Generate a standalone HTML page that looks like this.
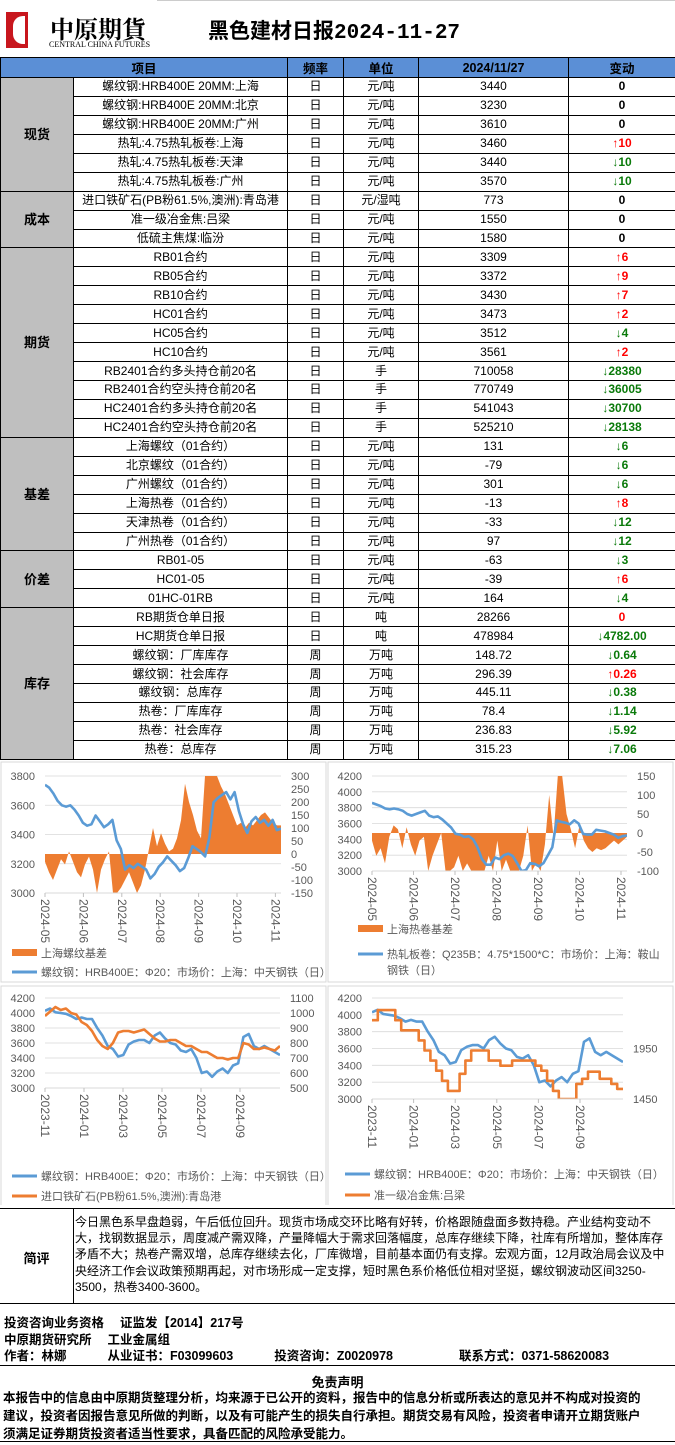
<!DOCTYPE html>
<html><head><meta charset="utf-8">
<style>
*{margin:0;padding:0;box-sizing:border-box}
body{width:675px;height:1445px;background:#fff;position:relative;overflow:hidden;font-family:"Liberation Sans","Noto Sans CJK SC",sans-serif;color:#000}
.abs{position:absolute}
table{border-collapse:collapse;position:absolute;left:0;top:57px;width:675px;table-layout:fixed}
td{border:1px solid #000;height:18.95px;font-size:12px;text-align:center;padding:0;white-space:nowrap;overflow:hidden;line-height:17px}
th{background:#5b8fd6;border:1px solid #000;height:19px;font-size:12.5px;font-weight:bold}
td.cat{background:#bfbfbf;font-weight:bold;font-size:13px}
.up{color:#f00;font-weight:bold}.dn{color:#0a7a0a;font-weight:bold}.z{font-weight:bold}
.ft{font-weight:bold;font-size:12.5px;position:absolute;left:4px;white-space:nowrap}
</style></head><body>
<div class="abs" style="left:6px;top:12px;width:22px;height:36px;background:#c8161d"></div>
<div class="abs" style="left:13px;top:16px;width:12px;height:28px;border-radius:10px 0 0 10px;background:#fff"></div>
<div class="abs" style="left:50px;top:10px;font-size:24px;font-weight:bold;font-family:'Noto Serif CJK SC',serif;letter-spacing:0px">中原期貨</div>
<div class="abs" style="left:49px;top:40px;font-size:8px;font-family:'Liberation Serif',serif">CENTRAL CHINA FUTURES</div>
<div class="abs" style="left:208px;top:15px;font-size:21px;font-weight:bold;font-family:'Liberation Mono','Noto Sans CJK SC',monospace">黑色建材日报2024-11-27</div>
<div class="abs" style="left:157px;top:0;width:518px;height:1px;background:#ccc"></div>

<table id="tbl">
<colgroup><col style="width:73px"><col style="width:214px"><col style="width:56px"><col style="width:75px"><col style="width:150px"><col style="width:107px"></colgroup>
<thead><tr><th colspan="2">项目</th><th>频率</th><th>单位</th><th>2024/11/27</th><th>变动</th></tr></thead>
<tbody id="tb"></tbody></table>

<svg id="charts" class="abs" style="left:0;top:760px" width="675" height="445"></svg>

<div class="abs" style="left:0;top:1208px;width:675px;height:96px;border-top:1px solid #000;border-bottom:1px solid #000"></div>
<div class="abs" style="left:73px;top:1208px;width:1px;height:96px;background:#000"></div>
<div class="abs" style="left:0;top:1248px;width:73px;text-align:center;font-weight:bold;font-size:13px">简评</div>
<div class="abs" style="left:75px;top:1214px;width:600px;font-size:12px;line-height:16.2px;white-space:nowrap">今日黑色系早盘趋弱，午后低位回升。现货市场成交环比略有好转，价格跟随盘面多数持稳。产业结构变动不<br>大，找钢数据显示，周度减产需双降，产量降幅大于需求回落幅度，总库存继续下降，社库有所增加，整体库存<br>矛盾不大；热卷产需双增，总库存继续去化，厂库微增，目前基本面仍有支撑。宏观方面，12月政治局会议及中<br>央经济工作会议政策预期再起，对市场形成一定支撑，短时黑色系价格低位相对坚挺，螺纹钢波动区间3250-<br>3500，热卷3400-3600。</div>
<div class="ft" style="top:1312px">投资咨询业务资格　 证监发【2014】217号</div>
<div class="ft" style="top:1329px">中原期货研究所　 工业金属组</div>
<div class="ft" style="top:1345px">作者：林娜　　　 从业证书：F03099603　　　 投资咨询：Z0020978　　　　　 联系方式：0371-58620083</div>
<div class="abs" style="left:0;top:1365px;width:675px;height:1px;background:#000"></div>
<div class="abs" style="left:0;top:1372px;width:675px;text-align:center;font-weight:bold;font-size:13px">免责声明</div>
<div class="abs" style="left:3px;top:1389px;font-weight:bold;font-size:12.5px;line-height:18px;white-space:nowrap">本报告中的信息由中原期货整理分析，均来源于已公开的资料，报告中的信息分析或所表达的意见并不构成对投资的<br>建议，投资者因报告意见所做的判断，以及有可能产生的损失自行承担。期货交易有风险，投资者申请开立期货账户<br>须满足证券期货投资者适当性要求，具备匹配的风险承受能力。</div>
<div class="abs" style="left:0;top:1441px;width:675px;height:1px;background:#000"></div>

<script>
const cats=[["现货",6],["成本",3],["期货",10],["基差",6],["价差",3],["库存",8]];
const items=["螺纹钢:HRB400E 20MM:上海","螺纹钢:HRB400E 20MM:北京","螺纹钢:HRB400E 20MM:广州","热轧:4.75热轧板卷:上海","热轧:4.75热轧板卷:天津","热轧:4.75热轧板卷:广州","进口铁矿石(PB粉61.5%,澳洲):青岛港","准一级冶金焦:吕梁","低硫主焦煤:临汾","RB01合约","RB05合约","RB10合约","HC01合约","HC05合约","HC10合约","RB2401合约多头持仓前20名","RB2401合约空头持仓前20名","HC2401合约多头持仓前20名","HC2401合约空头持仓前20名","上海螺纹（01合约）","北京螺纹（01合约）","广州螺纹（01合约）","上海热卷（01合约）","天津热卷（01合约）","广州热卷（01合约）","RB01-05","HC01-05","01HC-01RB","RB期货仓单日报","HC期货仓单日报","螺纹钢：厂库库存","螺纹钢：社会库存","螺纹钢：总库存","热卷：厂库库存","热卷：社会库存","热卷：总库存"];
const freqs="日日日日日日日日日日日日日日日日日日日日日日日日日日日日日日周周周周周周".split("");
const units=["元/吨","元/吨","元/吨","元/吨","元/吨","元/吨","元/湿吨","元/吨","元/吨","元/吨","元/吨","元/吨","元/吨","元/吨","元/吨","手","手","手","手","元/吨","元/吨","元/吨","元/吨","元/吨","元/吨","元/吨","元/吨","元/吨","吨","吨","万吨","万吨","万吨","万吨","万吨","万吨"];
const vals=["3440","3230","3610","3460","3440","3570","773","1550","1580","3309","3372","3430","3473","3512","3561","710058","770749","541043","525210","131","-79","301","-13","-33","97","-63","-39","164","28266","478984","148.72","296.39","445.11","78.4","236.83","315.23"];
const chg=["0","0","0","+10","-10","-10","0","0","0","+6","+9","+7","+2","-4","+2","-28380","-36005","-30700","-28138","-6","-6","-6","+8","-12","-12","-3","+6","-4","r0","-4782.00","-0.64","+0.26","-0.38","-1.14","-5.92","-7.06"];
const tb=document.getElementById('tb');
let ci=0,left=0;
for(let i=0;i<items.length;i++){
  const tr=document.createElement('tr');
  if(left===0){
    const c=document.createElement('td');c.className='cat';c.rowSpan=cats[ci][1];c.textContent=cats[ci][0];
    
    
    tr.appendChild(c);left=cats[ci][1];ci++;
  }
  left--;
  const cells=[items[i],freqs[i],units[i],vals[i]];
  cells.forEach((t,k)=>{const d=document.createElement('td');d.textContent=t;
    
    
    tr.appendChild(d);});
  const d=document.createElement('td');const s=chg[i];
  if(s[0]==='+'){d.className='up';d.textContent='↑'+s.slice(1);}
  else if(s[0]==='-'){d.className='dn';d.textContent='↓'+s.slice(1);}
  else if(s[0]==='r'){d.className='up';d.textContent=s.slice(1);}
  else{d.className='z';d.textContent=s;}
  
  
  tr.appendChild(d);tb.appendChild(tr);
}
</script>

<script>
// chart data
const blue1=[3740,3720,3680,3630,3600,3590,3600,3570,3530,3480,3460,3470,3530,3490,3450,3470,3500,3360,3300,3160,3190,3170,3200,3180,3160,3100,3130,3180,3210,3250,3220,3190,3150,3170,3240,3320,3300,3280,3250,3380,3620,3650,3670,3690,3640,3690,3560,3470,3410,3490,3520,3480,3500,3460,3500,3430,3440];
const basis1=[-30,-70,-100,-60,-20,-40,10,-30,-70,-90,-40,-10,-60,-150,-60,-20,10,-150,-150,-130,-100,-70,-110,-150,-120,-60,20,100,30,80,40,10,20,60,130,270,200,150,90,60,300,300,300,300,260,230,190,150,110,120,100,120,110,130,150,160,140,120,110,110];
const blue2=[3860,3840,3820,3790,3780,3790,3780,3760,3720,3700,3720,3740,3760,3700,3680,3690,3650,3600,3550,3470,3460,3430,3440,3400,3300,3150,3080,3080,3170,3150,3200,3220,3190,3100,3000,3010,3100,3090,3060,3100,3200,3300,3640,3620,3610,3590,3640,3600,3470,3460,3460,3520,3510,3500,3480,3460,3420,3440,3450];
const basis2=[-20,-60,-40,-80,-10,20,10,-40,15,-30,-60,-20,-10,-100,-60,-30,0,-100,-100,-90,-60,-100,-80,-100,-100,-100,-100,-60,-100,-20,-100,-70,-100,-100,-100,-60,20,-100,-80,-100,-30,100,-10,150,150,50,10,-40,20,-20,-40,-50,-40,-45,-40,-30,-20,-30,-20,-10];
const rebarY=[4030,4060,4010,4000,3990,3960,3920,3940,3920,3920,3800,3700,3560,3520,3420,3440,3580,3620,3640,3640,3600,3700,3740,3660,3600,3580,3500,3480,3520,3400,3200,3220,3150,3220,3260,3200,3300,3330,3680,3720,3560,3520,3560,3520,3480,3440];
const ore=[980,1010,1040,1020,1030,1000,990,940,920,880,820,780,760,800,870,880,880,870,880,890,860,830,810,810,820,820,800,780,780,760,740,740,720,700,700,690,700,700,800,790,760,760,770,760,750,780];
const coke=[2230,2330,2330,2330,2230,2130,2130,2130,2030,1930,1830,1730,1630,1530,1530,1700,1830,1930,1930,1930,1830,1830,1780,1780,1830,1830,1830,1830,1780,1730,1630,1530,1450,1450,1450,1600,1650,1720,1720,1650,1650,1600,1550,1550];
const monthsA=["2024-05","2024-06","2024-07","2024-08","2024-09","2024-10","2024-11"];
const monthsB=["2023-11","2024-01","2024-03","2024-05","2024-07","2024-09"];
const ticks1L=[3000,3200,3400,3600,3800], ticks1R=[-150,-100,-50,0,50,100,150,200,250,300];
const ticks2L=[3000,3200,3400,3600,3800,4000,4200], ticks2R=[-100,-50,0,50,100,150];
const ticks3L=[3000,3200,3400,3600,3800,4000,4200], ticks3R=[500,600,700,800,900,1000,1100];
const ticks4L=[3000,3200,3400,3600,3800,4000,4200], ticks4R=[1450,1950];

const S=document.getElementById('charts');const NS='http://www.w3.org/2000/svg';
function el(t,a,p){const e=document.createElementNS(NS,t);for(const k in a)e.setAttribute(k,a[k]);(p||S).appendChild(e);return e;}
function txt(x,y,s,anchor,size,rot,fill){const e=el('text',{x:x,y:y,'font-size':size||11,'text-anchor':anchor||'start',fill:fill||'#595959','font-family':'Liberation Sans, Noto Sans CJK SC, sans-serif'});if(rot)e.setAttribute('transform','rotate(90 '+x+' '+y+')');e.textContent=s;return e;}
let cid=0;
function chart(o){
  const id='c'+(cid++);
  el('rect',{x:o.bx,y:o.by,width:o.bw,height:o.bh,fill:'#fff',stroke:'#d9d9d9'});
  const yL=v=>o.b-(v-o.lmin)/(o.lmax-o.lmin)*(o.b-o.t);
  const yR=v=>o.b-(v-o.rmin)/(o.rmax-o.rmin)*(o.b-o.t);
  o.ticksL.forEach(v=>{el('line',{x1:o.l,x2:o.r,y1:yL(v),y2:yL(v),stroke:'#d9d9d9','stroke-width':0.8});txt(o.l-10,yL(v)+4,v,'end',11);});
  o.ticksR.forEach(v=>txt(o.r+10,yR(v)+4,v,'start',11));
  const cp=el('clipPath',{id:id});el('rect',{x:o.l,y:o.t,width:o.r-o.l,height:o.b-o.t},cp);
  const xs=(arr,i)=>o.l+i/(arr.length-1)*(o.xend-o.l);
  if(o.area){const a=o.area;let d='M'+o.l+','+yR(0);a.forEach((v,i)=>d+='L'+xs(a,i).toFixed(1)+','+yR(v).toFixed(1));d+='L'+xs(a,a.length-1)+','+yR(0)+'Z';
    const p=el('path',{d:d,fill:'#ed7d31','clip-path':'url(#'+id+')'});
    
    }
  o.lines.forEach(L=>{let d='';L.data.forEach((v,i)=>{const x=xs(L.data,i).toFixed(1),y=(L.axis==='R'?yR(v):yL(v)).toFixed(1);
      if(L.step&&i>0){const py=(L.axis==='R'?yR(L.data[i-1]):yL(L.data[i-1])).toFixed(1);d+='L'+x+','+py;}
      d+=(i?'L':'M')+x+','+y;});
    const p=el('path',{d:d,fill:'none',stroke:L.color,'stroke-width':2.6,'stroke-linejoin':'round','clip-path':'url(#'+id+')'});
    
    });
  el('line',{x1:o.l,x2:o.r,y1:o.b,y2:o.b,stroke:'#d9d9d9'});
  o.months.forEach((m,i)=>{const x=o.l+i*o.mstep;el('line',{x1:x,x2:x,y1:o.b,y2:o.b+4,stroke:'#bfbfbf'});txt(x-4,o.b+6,m,'start',12,true);});
  o.legend.forEach(g=>{if(g.box)el('rect',{x:g.x,y:g.y-4,width:25,height:7,fill:g.color});else el('line',{x1:g.x,x2:g.x+25,y1:g.y,y2:g.y,stroke:g.color,'stroke-width':3});
    g.text.forEach((t,k)=>txt(g.x+29,g.y+4+k*16,t,'start',11));});
}
chart({bx:1,by:2,bw:325,bh:220,l:45,r:281,t:776-760,b:893-760,xend:281,lmin:3000,lmax:3800,rmin:-150,rmax:300,ticksL:ticks1L,ticksR:ticks1R,
 area:basis1,lines:[{data:blue1,color:'#5b9bd5',axis:'L',name:'rebar-price-line'}],months:monthsA,mstep:38.4,
 legend:[{x:12,y:193,color:'#ed7d31',box:true,text:['上海螺纹基差']},{x:12,y:212,color:'#5b9bd5',text:['螺纹钢：HRB400E：Φ20：市场价：上海：中天钢铁（日）']}]});
chart({bx:328,by:2,bw:345,bh:220,l:372,r:627,t:16,b:111,xend:627,lmin:3000,lmax:4200,rmin:-100,rmax:150,ticksL:ticks2L,ticksR:ticks2R,
 area:basis2,lines:[{data:blue2,color:'#5b9bd5',axis:'L',name:'hrc-price-line'}],months:monthsA,mstep:41.5,
 legend:[{x:358,y:169,color:'#ed7d31',box:true,text:['上海热卷基差']},{x:358,y:194,color:'#5b9bd5',text:['热轧板卷：Q235B：4.75*1500*C：市场价：上海：鞍山','钢铁（日）']}]});
chart({bx:1,by:226,bw:325,bh:220,l:45,r:280,t:238,b:328,xend:280,lmin:3000,lmax:4200,rmin:500,rmax:1100,ticksL:ticks3L,ticksR:ticks3R,
 lines:[{data:rebarY,color:'#5b9bd5',axis:'L',name:'rebar-price-line-2'},{data:ore,color:'#ed7d31',axis:'R',name:'iron-ore-line'}],months:monthsB,mstep:39,
 legend:[{x:12,y:416,color:'#5b9bd5',text:['螺纹钢：HRB400E：Φ20：市场价：上海：中天钢铁（日）']},{x:12,y:436,color:'#ed7d31',text:['进口铁矿石(PB粉61.5%,澳洲):青岛港']}]});
chart({bx:328,by:226,bw:345,bh:220,l:372,r:623,t:238,b:339,xend:623,lmin:3000,lmax:4200,rmin:1450,rmax:2450,ticksL:ticks4L,ticksR:ticks4R,
 lines:[{data:rebarY,color:'#5b9bd5',axis:'L',name:'rebar-price-line-3'},{data:coke,color:'#ed7d31',axis:'R',step:true,name:'coke-price-line'}],months:monthsB,mstep:41.6,
 legend:[{x:345,y:414,color:'#5b9bd5',text:['螺纹钢：HRB400E：Φ20：市场价：上海：中天钢铁（日）']},{x:345,y:435,color:'#ed7d31',text:['准一级冶金焦:吕梁']}]});
</script>
</body></html>
